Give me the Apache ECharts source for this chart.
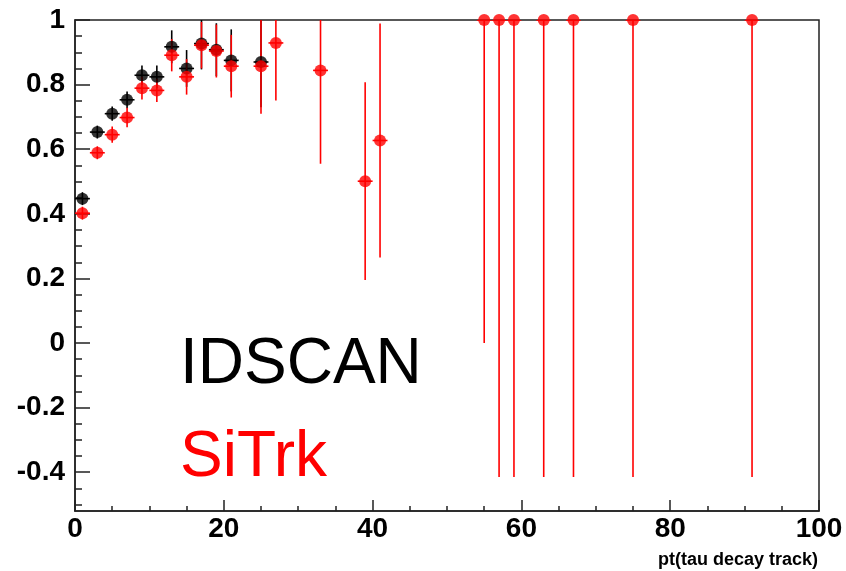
<!DOCTYPE html>
<html lang="en">
  <head>
    <meta charset="UTF-8" />
    <title>IDSCAN vs SiTrk efficiency</title>
    <script src="https://cdn.jsdelivr.net/npm/echarts@6/dist/echarts.min.js"></script>
    <style>
      html, body { margin: 0; padding: 0; background: #fff; }
      .box { width: 846px; height: 571px; }
    </style>
  </head>
  <body>
    <div class="box"></div>
    <script>
      // IDSCAN (black)
      var idscanPt = [1, 3, 5, 7, 9, 11, 13, 15, 17, 19, 21, 25];
      var idscanEff = [0.447, 0.653, 0.710, 0.753, 0.829, 0.824, 0.917, 0.850, 0.927, 0.908, 0.875, 0.870];
      var idscanErr = [0.02, 0.02, 0.022, 0.026, 0.03, 0.035, 0.051, 0.057, 0.08, 0.082, 0.096, 0.14];

      // SiTrk (red)
      var sitrkPt = [1, 3, 5, 7, 9, 11, 13, 15, 17, 19, 21, 25, 27, 33, 39, 41, 55, 57, 59, 63, 67, 75, 91];
      var sitrkEff = [0.402, 0.589, 0.645, 0.698, 0.789, 0.782, 0.891, 0.824, 0.922, 0.904, 0.857, 0.857, 0.929,
                      0.844, 0.501, 0.627, 1, 1, 1, 1, 1, 1, 1];
      var sitrkErrLow = [0.02, 0.02, 0.025, 0.03, 0.035, 0.036, 0.05, 0.055, 0.072, 0.082, 0.097, 0.147, 0.178,
                         0.289, 0.306, 0.362, 1.0, 1.415, 1.415, 1.415, 1.415, 1.415, 1.415];
      var sitrkErrHigh = [0.02, 0.02, 0.025, 0.03, 0.035, 0.036, 0.05, 0.055, 0.072, 0.082, 0.097, 0.147, 0.178,
                          0.289, 0.306, 0.362, 0, 0, 0, 0, 0, 0, 0];
      var binHalfWidth = 1;

      // axis ticks
      var yMajorTicks = [-0.4, -0.2, 0, 0.2, 0.4, 0.6, 0.8, 1];
      var yMinorTicks = [-0.5, -0.45, -0.35, -0.3, -0.25, -0.15, -0.1, -0.05, 0.05, 0.1, 0.15, 0.25, 0.3, 0.35,
                         0.45, 0.5, 0.55, 0.65, 0.7, 0.75, 0.85, 0.9, 0.95];

      var FONT = "'Liberation Sans', Arial, Helvetica, sans-serif";

      function buildBars(pts, eff, lo, hi) {
        var out = [];
        for (var i = 0; i < pts.length; i++) {
          out.push([pts[i], eff[i], lo[i], hi[i]]);
        }
        return out;
      }
      function buildPoints(pts, eff) {
        var out = [];
        for (var i = 0; i < pts.length; i++) out.push([pts[i], eff[i]]);
        return out;
      }

      // vertical + horizontal error bar for one point
      function errorBars(color) {
        return function (params, api) {
          var x = api.value(0), y = api.value(1);
          var lo = api.value(2), hi = api.value(3);
          var c = api.coord([x, y]);
          var top = api.coord([x, y + hi]);
          var bot = api.coord([x, y - lo]);
          var l = api.coord([x - binHalfWidth, y]);
          var r = api.coord([x + binHalfWidth, y]);
          return {
            type: "group",
            children: [
              { type: "line", shape: { x1: c[0], y1: top[1], x2: c[0], y2: bot[1] },
                style: { stroke: color, lineWidth: 1.6 } },
              { type: "line", shape: { x1: l[0], y1: c[1], x2: r[0], y2: c[1] },
                style: { stroke: color, lineWidth: 1.6 } }
            ]
          };
        };
      }

      var chart = echarts.init(document.getElementsByClassName("box")[0]);
      var axisColor = "#222";
      chart.setOption({
        animation: false,
        grid: { left: 75, right: 27, top: 20, bottom: 60, show: true, borderColor: axisColor, borderWidth: 1.5 },
        xAxis: {
          type: "value", min: 0, max: 100, interval: 20,
          axisLine: { onZero: false, lineStyle: { color: axisColor, width: 1.5 } },
          axisTick: { inside: true, length: 11, lineStyle: { color: axisColor, width: 1.5 } },
          minorTick: { show: true, splitNumber: 4, length: 5, lineStyle: { color: axisColor, width: 1.5 } },
          splitLine: { show: false },
          axisLabel: { color: "#000", fontFamily: FONT, fontWeight: "bold", fontSize: 28, margin: 4 }
        },
        yAxis: [
          {
            type: "value", min: -0.52, max: 1,
            axisLine: { show: true, lineStyle: { color: axisColor, width: 1.5 } },
            axisTick: { inside: true, length: 15, customValues: yMajorTicks, lineStyle: { color: axisColor, width: 1.5 } },
            splitLine: { show: false },
            axisLabel: {
              customValues: yMajorTicks, color: "#000", fontFamily: FONT, fontWeight: "bold", fontSize: 28, margin: 10
            }
          },
          {
            type: "value", min: -0.52, max: 1, position: "left", offset: 0,
            axisLine: { show: false },
            axisTick: { inside: true, length: 7, customValues: yMinorTicks, lineStyle: { color: axisColor, width: 1.5 } },
            splitLine: { show: false },
            axisLabel: { show: false }
          }
        ],
        graphic: [
          { type: "text", left: 180, top: 333,
            style: { text: "IDSCAN", font: "64px " + FONT, fill: "#000" } },
          { type: "text", left: 180, top: 426,
            style: { text: "SiTrk", font: "64px " + FONT, fill: "#ff0000" } },
          { type: "text", right: 28, top: 551,
            style: { text: "pt(tau decay track)", font: "bold 18px " + FONT, fill: "#000" } }
        ],
        series: [
          { type: "custom", clip: true, renderItem: errorBars("#000"),
            data: buildBars(idscanPt, idscanEff, idscanErr, idscanErr) },
          { type: "scatter", symbol: "circle", symbolSize: 12, clip: false,
            itemStyle: { color: "#000" }, data: buildPoints(idscanPt, idscanEff) },
          { type: "custom", clip: true, renderItem: errorBars("#ff0000"),
            data: buildBars(sitrkPt, sitrkEff, sitrkErrLow, sitrkErrHigh) },
          { type: "scatter", symbol: "circle", symbolSize: 12, clip: false,
            itemStyle: { color: "#ff0000" }, data: buildPoints(sitrkPt, sitrkEff) }
        ]
      });
    </script>
  </body>
</html>
